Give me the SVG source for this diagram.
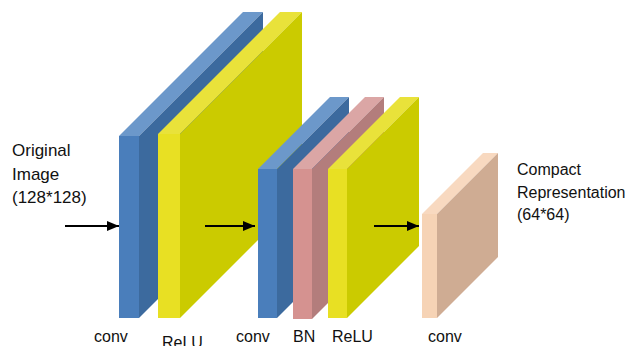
<svg xmlns="http://www.w3.org/2000/svg" width="632" height="346" viewBox="0 0 632 346">
<defs>
<style>
.t{font-family:"Liberation Sans",Arial,sans-serif;font-size:16px;fill:#111}
.l{font-size:17px}
.bF{fill:#4A7EBB}.bT{fill:#6C98CA}.bS{fill:#3C6A9E}
.yF{fill:#E8E023}.yT{fill:#E9E23A}.yS{fill:#CBCB00}
.pF{fill:#D59290}.pT{fill:#DBA6A5}.pS{fill:#B37D7C}
.cF{fill:#F6D3B5}.cT{fill:#F8D9C0}.cS{fill:#CFAC93}
.arr{stroke:#000;stroke-width:2;fill:none}
</style>
<marker id="ah" markerWidth="12" markerHeight="10" refX="12" refY="5" orient="auto" markerUnits="userSpaceOnUse">
<path d="M0,0 L12,5 L0,10 Z" fill="#000"/>
</marker>
</defs>
<rect width="632" height="346" fill="#fff"/>
<g id="input-label">
<text class="t l" x="12" y="156">Original</text>
<text class="t l" x="12" y="180">Image</text>
<text class="t l" x="12" y="203">(128*128)</text>
</g>
<g id="conv1">
<polygon class="bT" points="119,136 243,12 263,12 139,136"/>
<polygon class="bS" points="139,136 263,12 263,194 139,318"/>
<rect class="bF" x="119" y="136" width="20" height="182"/>
<text class="t" x="94" y="342">conv</text>
</g>
<g id="relu1">
<polygon class="yT" points="158,134 280,12 302,12 180,134"/>
<polygon class="yS" points="180,134 302,12 302,196 180,318"/>
<rect class="yF" x="158" y="134" width="22" height="184"/>
<text class="t" x="162" y="348">ReLU</text>
</g>
<g id="conv2">
<polygon class="bT" points="258,169 330,97 349,97 277,169"/>
<polygon class="bS" points="277,169 349,97 349,246 277,318"/>
<rect class="bF" x="258" y="169" width="19" height="149"/>
<text class="t" x="236" y="342">conv</text>
</g>
<g id="bn">
<polygon class="pT" points="293,169 365,97 384,97 312,169"/>
<polygon class="pS" points="312,169 384,97 384,247 312,319"/>
<rect class="pF" x="293" y="169" width="19" height="150"/>
<text class="t" x="293" y="342">BN</text>
</g>
<g id="relu2">
<polygon class="yT" points="328,169 400,97 419,97 347,169"/>
<polygon class="yS" points="347,169 419,97 419,246 347,318"/>
<rect class="yF" x="328" y="169" width="19" height="149"/>
<text class="t" x="332" y="342">ReLU</text>
</g>
<g id="conv3">
<polygon class="cT" points="422,214 483,153 498,153 437,214"/>
<polygon class="cS" points="437,214 498,153 498,257 437,318"/>
<rect class="cF" x="422" y="214" width="15" height="104"/>
<text class="t" x="428" y="342">conv</text>
</g>
<g id="output-label">
<text class="t" x="517" y="175">Compact</text>
<text class="t" x="517" y="198">Representation</text>
<text class="t" x="517" y="220">(64*64)</text>
</g>
<g id="connectors">
<line class="arr" x1="65" y1="226" x2="119" y2="226" marker-end="url(#ah)"/>
<line class="arr" x1="205" y1="226" x2="255" y2="226" marker-end="url(#ah)"/>
<line class="arr" x1="374" y1="226" x2="419" y2="226" marker-end="url(#ah)"/>
</g>
</svg>
